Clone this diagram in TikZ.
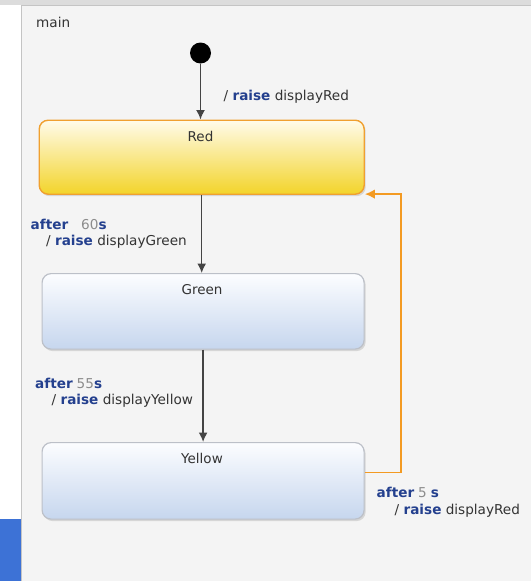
\documentclass[tikz,border=0pt]{standalone}
\usepackage{fontspec}
\setmainfont{DejaVu Sans}
\usetikzlibrary{arrows.meta,shadows}
\definecolor{topgray}{HTML}{DCDCDC}
\definecolor{framebg}{HTML}{F4F4F4}
\definecolor{frameline}{HTML}{C4C4C4}
\definecolor{sideblue}{HTML}{3D72D6}
\definecolor{txt}{HTML}{333333}
\definecolor{kwblue}{HTML}{24408E}
\definecolor{numgray}{HTML}{8C8C8C}
\definecolor{arrowgray}{HTML}{444444}
\definecolor{orangeline}{HTML}{F39A22}
\definecolor{redborder}{HTML}{F0A030}
\definecolor{redtop}{HTML}{FFFBEA}
\definecolor{redmid}{HTML}{F8E47E}
\definecolor{redbot}{HTML}{F3D42A}
\definecolor{blueborder}{HTML}{BCC0C8}
\definecolor{bluetop}{HTML}{FCFDFF}
\definecolor{bluebot}{HTML}{C6D6EE}
\newcommand{\kw}[1]{\textcolor{kwblue}{\bfseries #1}}
\newcommand{\nm}[1]{\textcolor{numgray}{#1}}
\tikzset{
  statebox/.style={rectangle, rounded corners=9pt, anchor=north west, inner sep=0pt,
    line width=1pt, drop shadow={shadow xshift=1.5pt, shadow yshift=-2pt, opacity=0.25}},
  activebox/.style={statebox, draw=redborder, line width=1.4pt, top color=redtop, middle color=redmid, bottom color=redbot},
  idlebox/.style={statebox, draw=blueborder, line width=1.2pt, top color=bluetop, bottom color=bluebot},
  statename/.style={anchor=base, inner sep=0pt, text=txt, font=\fontsize{13.5}{15}\selectfont},
  lbl/.style={anchor=base west, inner sep=0pt, text=txt, font=\fontsize{13.6}{15}\selectfont},
  conn/.style={draw=arrowgray, line width=1.5pt, -{Latex[length=9.5pt,width=9pt]}},
  backconn/.style={draw=orangeline, line width=1.6pt, -{Latex[length=10pt,width=9.5pt]}},
}
\begin{document}
\begin{tikzpicture}[x=1pt,y=-1pt]
\useasboundingbox (0,0) rectangle (531,581);
% window background
\fill[topgray] (0,0) rectangle (531,5);
\fill[framebg] (21,5) rectangle (531,581);
\draw[frameline, line width=1pt] (21,581) -- (21,5) -- (531,5);
\fill[sideblue] (0,519) rectangle (20.5,581);
\node[lbl] (mainlbl) at (36,27.5) {main};
% states
\node[circle, fill=black, minimum size=21pt, inner sep=0pt] (init) at (200.5,53) {};
\node[activebox, minimum width=325pt, minimum height=74pt] (red) at (38.5,119.5) {};
\node[idlebox, minimum width=322pt, minimum height=75.5pt] (green) at (41.5,273) {};
\node[idlebox, minimum width=322pt, minimum height=76.5pt] (yellow) at (41.5,442) {};
\node[statename] (redname) at (200.5,141) {Red};
\node[statename] (greenname) at (202,294) {Green};
\node[statename] (yellowname) at (202,463) {Yellow};
% transitions
\draw[conn] (init) -- (init |- red.north);
\draw[conn] (red.south) -- (red.south |- green.north);
\draw[conn] (green.south) -- (green.south |- yellow.north);
\draw[backconn] ([yshift=8.3pt]yellow.east) -- ++(36,0) |- ([yshift=0.8pt]red.south east);
% labels
\node[lbl] (l0) at (223.5,100) {/ \kw{raise} displayRed};
\node[lbl] (l1a) at (30.5,229.5) {\kw{after}\hspace{13pt}\nm{60}\kw{s}};
\node[lbl] (l1b) at (46,245) {/ \kw{raise} displayGreen};
\node[lbl] (l2a) at (35,388) {\kw{after}\hspace{4pt}\nm{55}\kw{s}};
\node[lbl] (l2b) at (51.5,404) {/ \kw{raise} displayYellow};
\node[lbl] (l3a) at (376.5,497.5) {\kw{after}\hspace{4pt}\nm{5}\hspace{4pt}\kw{s}};
\node[lbl] (l3b) at (394.5,514) {/ \kw{raise} displayRed};
\end{tikzpicture}
\end{document}
